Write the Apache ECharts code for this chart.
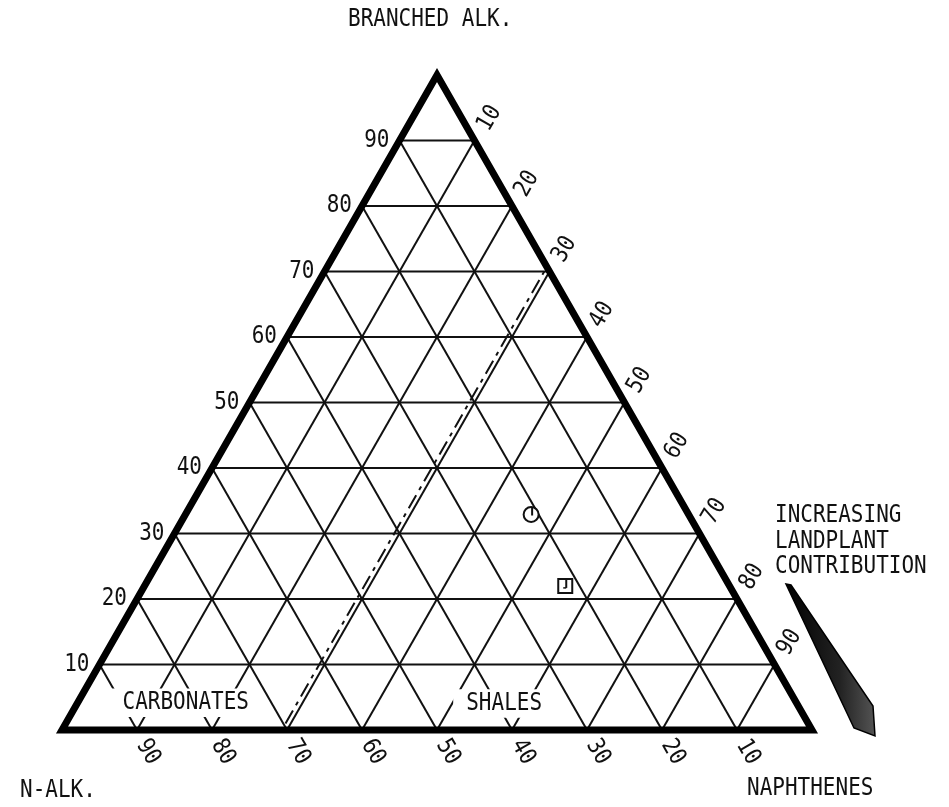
<!DOCTYPE html>
<html><head><meta charset="utf-8">
<script src="https://cdn.jsdelivr.net/npm/echarts@6/dist/echarts.min.js"></script>
<style>html,body{margin:0;padding:0;background:#fff}#c{width:949px;height:807px}</style>
</head><body><div id="c"></div>
<script>
// ---- data (ternary percentages) ----
const gridTicks = [10, 20, 30, 40, 50, 60, 70, 80, 90];
const branchedLabels = ['10', '20', '30', '40', '50', '60', '70', '80', '90'];   // left edge, bottom to top
const nAlkLabels = ['90', '80', '70', '60', '50', '40', '30', '20', '10'];       // base, left to right
const naphtheneLabels = ['10', '20', '30', '40', '50', '60', '70', '80', '90'];  // right edge, top to bottom
const nAlkTickValues = [90, 80, 70, 60, 50, 40, 30, 20, 10];
const naphtheneTickValues = [10, 20, 30, 40, 50, 60, 70, 80, 90];

const sampleSymbols = ['circle', 'square'];
const sampleBranched = [32.9, 22.0];
const sampleNaphthenes = [46.1, 56.1];
const sampleNAlk = [21.0, 21.9];

const boundaryNaphthenes = [29.3, 29.3];
const boundaryBranched = [1, 70];

const regionNames = ['CARBONATES', 'SHALES'];
const regionBranched = [4.0, 3.9];
const regionNaphthenes = [14.5, 57.0];

const cornerNames = ['N-ALK.', 'NAPHTHENES', 'BRANCHED ALK.'];
const arrowText = ['INCREASING', 'LANDPLANT', 'CONTRIBUTION'];

// ternary -> cartesian (x: 0..100 across base, y: branched %)
function tern(naph, br) { return [naph + br / 2, br]; }

const FONT = '21px "DejaVu Sans Mono", "Liberation Mono", monospace';
const SY = 1.14;

// grid segments
const segs = [];
gridTicks.forEach(t => {
  segs.push([...tern(0, t), ...tern(100 - t, t)]);            // constant branched
  segs.push([...tern(t, 0), ...tern(t, 100 - t)]);            // constant naphthenes
  segs.push([...tern(100 - t, 0), ...tern(0, 100 - t)]);      // constant n-alk
});

// tick labels
const labelItems = [];
gridTicks.forEach((t, i) => labelItems.push({ p: tern(0, t), text: branchedLabels[i], kind: 'L' }));
nAlkTickValues.forEach((v, i) => labelItems.push({ p: tern(100 - v, 0), text: nAlkLabels[i], kind: 'B' }));
naphtheneTickValues.forEach((v, i) => labelItems.push({ p: tern(v, 100 - v), text: naphtheneLabels[i], kind: 'R' }));

const chart = echarts.init(document.getElementById('c'), null, { renderer: 'canvas' });

function txt(x, y, text, align, valign, rot) {
  return {
    type: 'text', x: x, y: y, rotation: rot || 0, scaleY: SY,
    style: { text: text, font: FONT, fill: '#111', align: align, verticalAlign: valign,
             textAlign: align, textVerticalAlign: valign }
  };
}

chart.setOption({
  animation: false,
  backgroundColor: '#fff',
  grid: { left: 62, right: 137, top: 75, bottom: 77 },
  xAxis: { type: 'value', min: 0, max: 100, show: false },
  yAxis: { type: 'value', min: 0, max: 100, show: false },
  series: [
    {
      type: 'custom', z: 2,
      data: segs,
      renderItem: function (params, api) {
        const a = api.coord([api.value(0), api.value(1)]);
        const b = api.coord([api.value(2), api.value(3)]);
        return { type: 'line', shape: { x1: a[0], y1: a[1], x2: b[0], y2: b[1] },
                 style: { stroke: '#111', lineWidth: 2 } };
      }
    },
    {
      type: 'custom', z: 3,
      data: [[...tern(boundaryNaphthenes[0], boundaryBranched[0]), ...tern(boundaryNaphthenes[1], boundaryBranched[1])]],
      renderItem: function (params, api) {
        const a = api.coord([api.value(0), api.value(1)]);
        const b = api.coord([api.value(2), api.value(3)]);
        return { type: 'line', shape: { x1: a[0], y1: a[1], x2: b[0], y2: b[1] },
                 style: { stroke: '#111', lineWidth: 2, lineDash: [15, 6, 4, 6] } };
      }
    },
    {
      type: 'custom', z: 4,
      data: [[...tern(0, 0), ...tern(100, 0), ...tern(0, 100)]],
      renderItem: function (params, api) {
        const p1 = api.coord([api.value(0), api.value(1)]);
        const p2 = api.coord([api.value(2), api.value(3)]);
        const p3 = api.coord([api.value(4), api.value(5)]);
        return { type: 'polygon', shape: { points: [p1, p2, p3] },
                 style: { fill: 'none', stroke: '#000', lineWidth: 7, lineJoin: 'miter', miterLimit: 10 } };
      }
    },
    {
      type: 'custom', z: 5,
      data: regionNames.map((n, i) => tern(regionNaphthenes[i], regionBranched[i])),
      renderItem: function (params, api) {
        const p = api.coord([api.value(0), api.value(1)]);
        return {
          type: 'text', x: p[0], y: p[1] - 1, scaleY: SY,
          style: { text: regionNames[params.dataIndex], font: FONT, fill: '#111',
                   align: 'center', verticalAlign: 'middle', textAlign: 'center', textVerticalAlign: 'middle',
                   backgroundColor: '#fff', padding: [2, 13] }
        };
      }
    },
    {
      type: 'custom', z: 6,
      data: sampleSymbols.map((s, i) => tern(sampleNaphthenes[i], sampleBranched[i]).concat([sampleNAlk[i]])),
      renderItem: function (params, api) {
        const p = api.coord([api.value(0), api.value(1)]);
        const sym = sampleSymbols[params.dataIndex];
        const st = { stroke: '#111', lineWidth: 2, fill: '#fff' };
        if (sym === 'circle') {
          return { type: 'group', children: [
            { type: 'circle', shape: { cx: p[0], cy: p[1], r: 7.5 }, style: st },
            { type: 'line', shape: { x1: p[0] + 1, y1: p[1] - 7, x2: p[0] + 1, y2: p[1] + 1 }, style: { stroke: '#111', lineWidth: 2 } }
          ] };
        }
        return { type: 'group', children: [
          { type: 'rect', shape: { x: p[0] - 7, y: p[1] - 7, width: 14, height: 14 }, style: st },
          { type: 'line', shape: { x1: p[0] + 1, y1: p[1] - 7, x2: p[0] + 1, y2: p[1] + 2 }, style: { stroke: '#111', lineWidth: 2 } },
          { type: 'line', shape: { x1: p[0] + 1, y1: p[1] + 2, x2: p[0] - 2, y2: p[1] + 2 }, style: { stroke: '#111', lineWidth: 1.5 } }
        ] };
      }
    },
    {
      type: 'custom', z: 7,
      data: labelItems.map(l => l.p),
      renderItem: function (params, api) {
        const it = labelItems[params.dataIndex];
        const p = api.coord([api.value(0), api.value(1)]);
        if (it.kind === 'L') return txt(p[0] - 10, p[1], it.text, 'right', 'middle', 0);
        if (it.kind === 'B') return txt(p[0] + 11, p[1] + 22, it.text, 'center', 'middle', -Math.PI / 3);
        return txt(p[0] + 15, p[1] - 22, it.text, 'center', 'middle', Math.PI / 3);
      }
    }
  ],
  graphic: [
    { type: 'text', left: 348, top: 8, z: 10, scaleY: SY,
      style: { text: cornerNames[2], font: FONT, fill: '#111' } },
    { type: 'text', left: 20, top: 779, z: 10, scaleY: SY,
      style: { text: cornerNames[0], font: FONT, fill: '#111' } },
    { type: 'text', left: 747, top: 777, z: 10, scaleY: SY,
      style: { text: cornerNames[1], font: FONT, fill: '#111' } },
    { type: 'text', left: 775, top: 503, z: 10, scaleY: SY,
      style: { text: arrowText.join('\n'), font: FONT, fill: '#111', lineHeight: 22.5 } },
    { type: 'polygon', z: 10,
      shape: { points: [[786, 584], [791, 585], [873, 706], [875, 736], [854, 728]] },
      style: { stroke: '#000', lineWidth: 1.5,
               fill: new echarts.graphic.LinearGradient(0, 0, 1, 0, [
                 { offset: 0, color: '#000' }, { offset: 0.6, color: '#222' }, { offset: 1, color: '#555' }]) } }
  ]
});
</script>
</body></html>
